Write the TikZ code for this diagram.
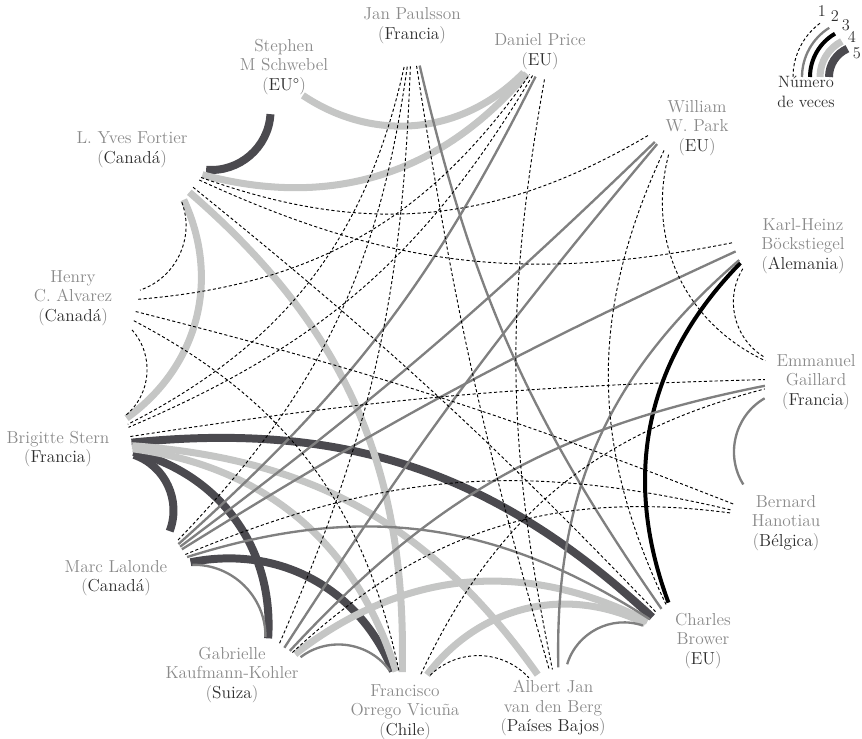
\documentclass[tikz,border=0pt]{standalone}
\usetikzlibrary{calc}

\definecolor{namegray}{HTML}{8A8A8A}
\definecolor{ctrydark}{HTML}{2E2E2E}
\definecolor{midline}{HTML}{808080}
\definecolor{paleline}{HTML}{C5C6C5}
\definecolor{darkline}{HTML}{4B4A4F}

% angle of each arbitrator on the ring
\def\angEG{0}   \def\angKH{24}  \def\angWP{48}  \def\angDP{72}
\def\angJP{96}  \def\angSS{120} \def\angYF{144} \def\angHA{168}
\def\angBS{192} \def\angML{216} \def\angGK{240} \def\angFO{264}
\def\angAJ{288} \def\angCB{312} \def\angBH{336}

\newcommand{\ctry}[1]{(\textcolor{ctrydark}{#1})}

% chord between two arbitrators, #1 scales the bend
\newcommand{\link}[4][1]{%
  \pgfmathsetmacro\dA{mod(\csname ang#4\endcsname-\csname ang#3\endcsname+720,360)}%
  \pgfmathsetmacro\dS{min(\dA,360-\dA)}%
  \pgfmathsetmacro\bB{#1*min(46,54-0.3*\dS)*ifthenelse(\dA<180,1,-1)}%
  \pgfmathsetmacro\sH{20*(180-\dA)/180}%
  \draw[#2] ($(#3)!\sH pt!-90:(O)$) to[bend left=\bB] ($(#4)!\sH pt!90:(O)$);%
}

\begin{document}
\begin{tikzpicture}[x=0.03cm, y=-0.03cm,
  who/.style={align=center, text=namegray, inner sep=0pt,
    font=\fontsize{14.8}{16.8}\selectfont},
  once/.style={black, line width=0.8pt, dash pattern=on 2.6pt off 2pt},
  twice/.style={midline, line width=2pt},
  thrice/.style={black, line width=3.4pt},
  four/.style={paleline, line width=6pt},
  five/.style={darkline, line width=6.8pt}
]
\useasboundingbox (0,0) rectangle (862,739);

\coordinate (O) at (443,372);
% arbitrators
\coordinate (EG) at (765,378);
\coordinate (KH) at (735,250);
\coordinate (WP) at (656,143);
\coordinate (DP) at (540,78);
\coordinate (JP) at (415,66);
\coordinate (SS) at (288,104);
\coordinate (YF) at (194,186);
\coordinate (HA) at (136,310);
\coordinate (BS) at (130,435);
\coordinate (ML) at (181,548);
\coordinate (GK) at (283,647);
\coordinate (FO) at (410,673);
\coordinate (AJ) at (548,671);
\coordinate (CB) at (658,612);
\coordinate (BH) at (735,503);

% five times
\link{five}{SS}{YF}
\link[1.35]{five}{BS}{CB}
\link{five}{BS}{ML}
\link{five}{BS}{GK}
\link{five}{ML}{FO}
% four times
\link{four}{SS}{DP}
\link{four}{YF}{DP}
\link{four}{YF}{BS}
\link[1.4]{four}{YF}{FO}
\link{four}{GK}{CB}
\link{four}{FO}{CB}
\link{four}{BS}{AJ}
\link{four}{BS}{FO}
% three times
\link{thrice}{KH}{CB}
% twice
\link{twice}{ML}{GK}
\link{twice}{GK}{FO}
\link{twice}{AJ}{CB}
\link{twice}{EG}{BH}
\link{twice}{JP}{CB}
\link{twice}{ML}{CB}
\link{twice}{KH}{ML}
\link{twice}{KH}{AJ}
\link{twice}{EG}{GK}
\link{twice}{DP}{ML}
\link{twice}{WP}{ML}
\link{twice}{WP}{GK}
% once
\link{once}{YF}{HA}
\link{once}{HA}{BS}
\link{once}{FO}{AJ}
\link{once}{KH}{EG}
\link{once}{WP}{EG}
\link{once}{WP}{CB}
\link{once}{WP}{YF}
\link{once}{JP}{BS}
\link{once}{JP}{ML}
\link{once}{JP}{GK}
\link{once}{JP}{AJ}
\link{once}{DP}{BS}
\link{once}{DP}{AJ}
\link{once}{KH}{YF}
\link{once}{HA}{FO}
\link{once}{HA}{DP}
\link{once}{HA}{BH}
\link{once}{BS}{EG}
\link{once}{ML}{BH}
\link{once}{GK}{BH}
\link{once}{FO}{EG}
\link{once}{YF}{CB}

% names
\node[who] (EGl) at (816,382) {Emmanuel\\Gaillard\\\ctry{Francia}};
\node[who] (KHl) at (803,246) {Karl-Heinz\\Böckstiegel\\\ctry{Alemania}};
\node[who] (WPl) at (697,128) {William\\W. Park\\\ctry{EU}};
\node[who] (DPl) at (540,52) {Daniel Price\\\ctry{EU}};
\node[who] (JPl) at (412,26) {Jan Paulsson\\\ctry{Francia}};
\node[who] (SSl) at (284,67) {Stephen\\M Schwebel\\\ctry{EU°}};
\node[who] (YFl) at (132,150) {L. Yves Fortier\\\ctry{Canadá}};
\node[who] (HAl) at (73,298) {Henry\\C. Alvarez\\\ctry{Canadá}};
\node[who] (BSl) at (58,449) {Brigitte Stern\\\ctry{Francia}};
\node[who] (MLl) at (116,578) {Marc Lalonde\\\ctry{Canadá}};
\node[who] (GKl) at (232,675) {Gabrielle\\Kaufmann-Kohler\\\ctry{Suiza}};
\node[who] (FOl) at (405,712) {Francisco\\Orrego Vicuña\\\ctry{Chile}};
\node[who] (AJl) at (553,708) {Albert Jan\\van den Berg\\\ctry{Países Bajos}};
\node[who] (CBl) at (703,641) {Charles\\Brower\\\ctry{EU}};
\node[who] (BHl) at (786,523) {Bernard\\Hanotiau\\\ctry{Bélgica}};

% key
\coordinate (LC) at (860,77);
\draw[once]   ($(LC)+(-67,0)$) arc[start angle=180, end angle=235, radius=67];
\draw[twice]  ($(LC)+(-58,0)$) arc[start angle=180, end angle=238, radius=58];
\draw[thrice] ($(LC)+(-50,0)$) arc[start angle=180, end angle=240, radius=50];
\draw[four]   ($(LC)+(-40,0)$) arc[start angle=180, end angle=243, radius=40];
\draw[five]   ($(LC)+(-31,0)$) arc[start angle=180, end angle=246, radius=31];
\foreach \n/\px/\py in {1/822/11, 2/835/16, 3/846/25, 4/852/37, 5/857/53}
  \node[who, text=ctrydark, font=\fontsize{14}{15}\selectfont] (k\n) at (\px,\py) {\n};
\node[who, text=ctrydark, font=\fontsize{14}{17}\selectfont] (keyl) at (806,92) {Número\\de veces};
\end{tikzpicture}
\end{document}
